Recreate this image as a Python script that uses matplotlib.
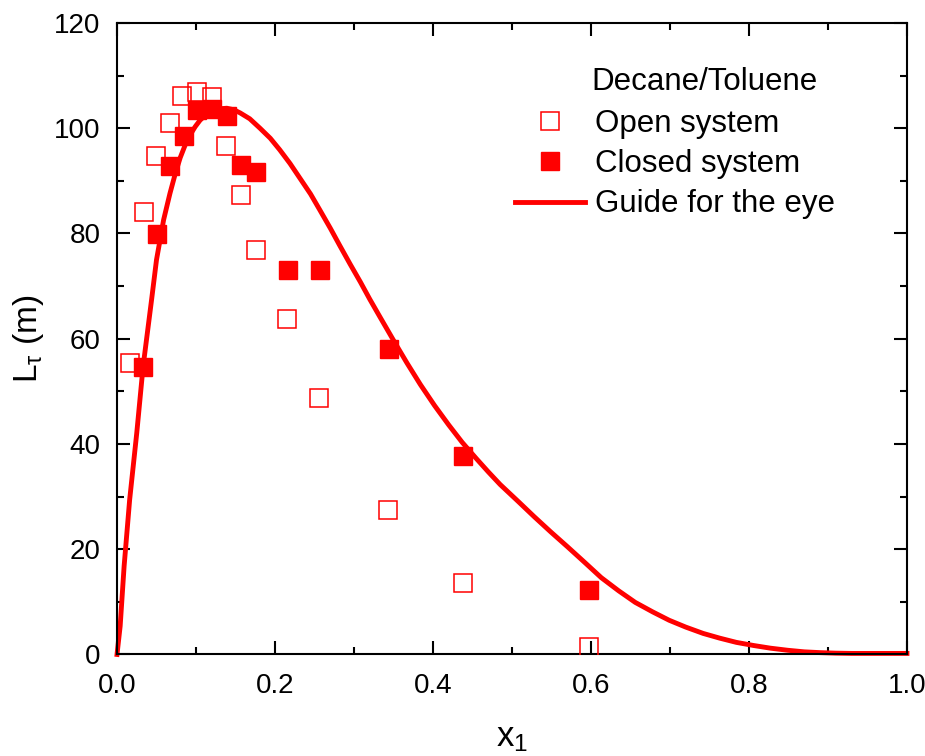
import matplotlib
matplotlib.use("Agg")
import matplotlib.pyplot as plt
from matplotlib.ticker import MultipleLocator, FormatStrFormatter
from matplotlib.lines import Line2D

plt.rcParams["font.family"] = ["Liberation Sans", "DejaVu Sans"]
plt.rcParams["mathtext.fontset"] = "custom"
plt.rcParams["mathtext.rm"] = "Liberation Sans"
plt.rcParams["mathtext.it"] = "Liberation Sans"
plt.rcParams["mathtext.bf"] = "Liberation Sans:bold"

# Open system measurements
open_x = [0.016, 0.034, 0.049, 0.067, 0.082, 0.101, 0.120, 0.138, 0.157,
          0.176, 0.215, 0.256, 0.343, 0.438, 0.597]
open_y = [55.3, 84.1, 94.7, 101.0, 106.1, 106.9, 105.9, 96.6, 87.3,
          76.8, 63.7, 48.7, 27.4, 13.5, 1.5]

# Closed system measurements
closed_x = [0.033, 0.051, 0.067, 0.085, 0.101, 0.120, 0.139, 0.157, 0.176,
            0.216, 0.257, 0.344, 0.438, 0.597]
closed_y = [54.6, 79.9, 92.8, 98.5, 103.5, 103.7, 102.3, 93.0, 91.7,
            73.0, 73.0, 58.0, 37.7, 12.2]

# Guide for the eye
guide_x = [0.0, 0.004, 0.009, 0.016, 0.025, 0.033, 0.044, 0.050, 0.059, 0.067,
           0.074, 0.080, 0.086, 0.092, 0.099, 0.105, 0.112, 0.120, 0.130, 0.139,
           0.148, 0.156, 0.168, 0.181, 0.194, 0.206, 0.219, 0.232, 0.245, 0.257,
           0.270, 0.282, 0.295, 0.308, 0.320, 0.333, 0.350, 0.367, 0.384, 0.402,
           0.420, 0.437, 0.455, 0.470, 0.485, 0.507, 0.528, 0.549, 0.570, 0.592,
           0.613, 0.635, 0.656, 0.678, 0.699, 0.720, 0.742, 0.763, 0.784, 0.806,
           0.827, 0.849, 0.870, 0.890, 0.910, 0.930, 0.950, 0.975, 1.0]
guide_y = [0.0, 5.4, 16.8, 29.4, 42.1, 54.7, 67.7, 75.0, 82.6, 87.6,
           91.5, 94.4, 96.7, 98.6, 100.3, 101.5, 102.5, 103.2, 103.7, 103.8,
           103.5, 102.9, 101.8, 100.0, 98.1, 95.9, 93.3, 90.4, 87.5, 84.4,
           81.0, 77.7, 74.2, 70.8, 67.5, 64.1, 59.7, 55.4, 51.3, 47.3,
           43.6, 40.3, 37.2, 34.7, 32.3, 29.2, 26.2, 23.3, 20.5, 17.5,
           14.6, 12.1, 9.9, 8.1, 6.5, 5.2, 4.0, 3.1, 2.3, 1.7,
           1.2, 0.8, 0.5, 0.35, 0.25, 0.2, 0.2, 0.2, 0.2]

legend_title = "Decane/Toluene"
labels = ["Open system", "Closed system", "Guide for the eye"]

red = "#ff0000"
fig = plt.figure(figsize=(9.25, 7.56), dpi=100)
ax = fig.add_axes([0.1265, 0.1343, 0.854, 0.8353])

ax.plot(guide_x, guide_y, color=red, lw=3.5, zorder=2, clip_on=False,
        solid_joinstyle="round")
ax.plot(closed_x, closed_y, ls="none", marker="s", ms=13.5, mfc=red, mec=red,
        mew=1.0, zorder=3)
ax.plot(open_x, open_y, ls="none", marker="s", ms=13, mfc="none", mec=red,
        mew=1.1, zorder=4)

ax.set_xlim(0, 1.0)
ax.set_ylim(0, 120)
ax.xaxis.set_major_locator(MultipleLocator(0.2))
ax.xaxis.set_minor_locator(MultipleLocator(0.1))
ax.yaxis.set_major_locator(MultipleLocator(20))
ax.yaxis.set_minor_locator(MultipleLocator(10))
ax.xaxis.set_major_formatter(FormatStrFormatter("%.1f"))
ax.tick_params(which="both", direction="in", top=True, right=True, width=1.5,
               labelsize=20, colors="black")
ax.tick_params(which="major", length=9.4)
ax.tick_params(which="minor", length=5)
ax.tick_params(axis="x", which="major", pad=13)
ax.tick_params(axis="y", which="major", pad=12)
for s in ax.spines.values():
    s.set_linewidth(1.5)

ax.set_xlabel("x$_1$", fontsize=25, labelpad=16)
ax.set_ylabel("L$_\\tau$ (m)", fontsize=24, labelpad=6)

handles = [
    Line2D([], [], ls="none", marker="s", ms=13, mfc="none", mec=red, mew=1.1),
    Line2D([], [], ls="none", marker="s", ms=13.5, mfc=red, mec=red),
    Line2D([], [], color=red, lw=3.5),
]
ax.legend(handles, labels, loc="upper left", bbox_to_anchor=(0.504, 0.864),
          frameon=False, fontsize=22.5, handlelength=2.24, handletextpad=0.32,
          labelspacing=0.33, borderpad=0, borderaxespad=0)
ax.text(0.744, 0.9066, legend_title, transform=ax.transAxes, fontsize=22.5,
        ha="center", va="center")

fig.savefig("out.png", dpi=100)
